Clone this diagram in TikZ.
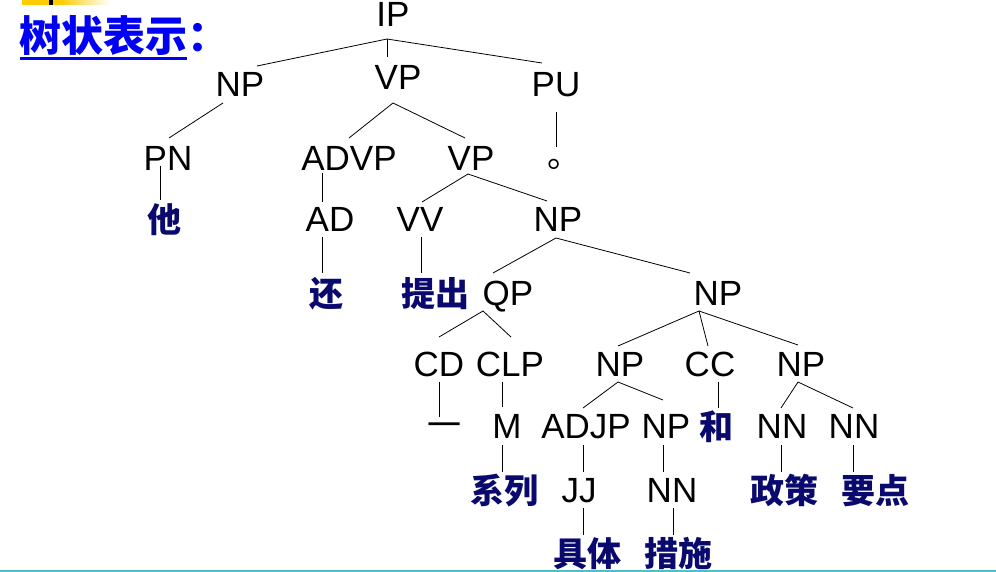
\documentclass[tikz,border=0pt]{standalone}
\usepackage{fontspec}
\setmainfont{Liberation Sans}
\newfontfamily\cjk{Noto Sans CJK SC}
\newfontfamily\cjkheavy{Noto Sans CJK SC Black}
\definecolor{navy}{RGB}{10,10,110}
\definecolor{titleblue}{RGB}{0,0,245}
\definecolor{tealline}{RGB}{80,190,200}
\definecolor{slideyellow}{RGB}{255,204,0}
\newcommand\E[4]{\draw[edge] ([shift={(#2)}]#1.base) -- ([shift={(#4)}]#3.base);}
\begin{document}
\begin{tikzpicture}[x=1pt,y=-1pt,
  lab/.style={anchor=base,inner sep=0pt,font=\fontsize{35}{40}\selectfont},
  zh/.style={anchor=base,inner sep=0pt,font=\cjkheavy\fontsize{34}{40}\selectfont,text=navy},
  edge/.style={line width=0.8pt,black}]
\useasboundingbox (0,0) rectangle (996,572);
% slide decorations
\fill[slideyellow] (22,0) rectangle (60,5);
\shade[left color=slideyellow,right color=white] (60,0) rectangle (110,5);
\fill[black] (49,0) rectangle (53,5);
\draw[tealline,line width=2pt] (0,571) -- (996,571);
% title
\node[anchor=base west,inner sep=0pt,font=\cjkheavy\fontsize{42}{48}\selectfont,text=titleblue] (title) at (19,51.5) {树状表示：};
\draw[titleblue,line width=3pt] ([shift={(1,7)}]title.base west) -- ([shift={(168,7)}]title.base west);
% tree nodes
\node[lab] (ip) at (393,26.2) {IP};
\node[lab] (np1) at (240,96.2) {NP};
\node[lab] (vp1) at (398,89.2) {VP};
\node[lab] (pu) at (556,96.2) {PU};
\node[lab] (pn) at (168,170.2) {PN};
\node[lab] (advp) at (349,170.2) {ADVP};
\node[lab] (vp2) at (471,170.2) {VP};
\node[anchor=base west,inner sep=0pt,font=\cjk\fontsize{34}{40}\selectfont] (dot) at (547,167.4) {。};
\node[lab] (ad) at (330,231.2) {AD};
\node[lab] (vv) at (420,231.2) {VV};
\node[lab] (np2) at (558,231.2) {NP};
\node[lab] (qp) at (508,305.2) {QP};
\node[lab] (np3) at (718,305.2) {NP};
\node[lab] (cd) at (439,376.2) {CD};
\node[lab] (clp) at (510,376.2) {CLP};
\node[lab] (np4) at (620,376.2) {NP};
\node[lab] (cc) at (710,376.2) {CC};
\node[lab] (np5) at (801,376.2) {NP};
\node[lab] (m) at (507,438.2) {M};
\node[lab] (adjp) at (586,438.2) {ADJP};
\node[lab] (np6) at (666,438.2) {NP};
\node[lab] (nn1) at (782,438.2) {NN};
\node[lab] (nn2) at (854,438.2) {NN};
\node[lab] (jj) at (579,502.2) {JJ};
\node[lab] (nn3) at (672,502.2) {NN};
% words
\node[zh] (ta) at (164,233) {他};
\node[zh] (hai) at (326,306) {还};
\node[zh] (tichu) at (435,306) {提出};
\node[anchor=base,inner sep=0pt,font=\cjk\fontsize{34}{40}\selectfont] (yi) at (444,437) {一};
\node[zh] (he) at (716,439) {和};
\node[zh] (xilie) at (504,503) {系列};
\node[zh] (zhengce) at (784,503) {政策};
\node[zh] (yaodian) at (875,503) {要点};
\node[zh] (juti) at (587,566) {具体};
\node[zh] (cuoshi) at (678,566) {措施};
% edges
\E{ip}{-6,12.8}{np1}{17,-30.2}
\E{ip}{-6,12.8}{vp1}{-11,-32.2}
\E{ip}{-6,12.8}{pu}{-14,-33.2}
\E{np1}{-17,6.8}{pn}{1,-32.2}
\E{pn}{-8,-4.2}{ta}{-4,-33}
\E{vp1}{-5,13.8}{advp}{0,-32.2}
\E{vp1}{-5,13.8}{vp2}{-6,-32.2}
\draw[edge] ([shift={(0,15.8)}]pu.base) -- ([shift={(9,-20.4)}]dot.base west);
\E{advp}{-27,2.8}{ad}{-8,-29.2}
\E{vp2}{-3,3.8}{vv}{2,-29.2}
\E{vp2}{-3,3.8}{np2}{-11,-30.2}
\E{ad}{-8,5.8}{hai}{-4,-33}
\E{vv}{1,5.8}{tichu}{-14,-33}
\E{np2}{-2,6.8}{qp}{-15,-32.2}
\E{np2}{-2,6.8}{np3}{-28,-32.2}
\E{qp}{-25,5.8}{cd}{0,-39.2}
\E{qp}{-25,5.8}{clp}{1,-39.2}
\E{np3}{-19,5.8}{np4}{-2,-30.2}
\E{np3}{-19,5.8}{cc}{-2,-30.2}
\E{np3}{-19,5.8}{np5}{-3,-31.2}
\E{cd}{0,5.8}{yi}{-5,-20}
\E{clp}{-8,5.8}{m}{-5,-31.2}
\E{np4}{-2,5.8}{adjp}{-3,-30.2}
\E{np4}{-2,5.8}{np6}{-3,-38.2}
\E{cc}{8,5.8}{he}{2,-31}
\E{np5}{-3,5.8}{nn1}{-1,-30.2}
\E{np5}{-3,5.8}{nn2}{-1,-30.2}
\E{m}{-5,6.8}{xilie}{-2,-31}
\E{adjp}{-3,6.8}{jj}{4,-30.2}
\E{np6}{-3,6.8}{nn3}{-9,-30.2}
\E{nn1}{-1,6.8}{zhengce}{-3,-31}
\E{nn2}{-1,6.8}{yaodian}{-22,-31}
\E{jj}{4,5.8}{juti}{-4,-31}
\E{nn3}{1,5.8}{cuoshi}{-5,-31}
\end{tikzpicture}
\end{document}
